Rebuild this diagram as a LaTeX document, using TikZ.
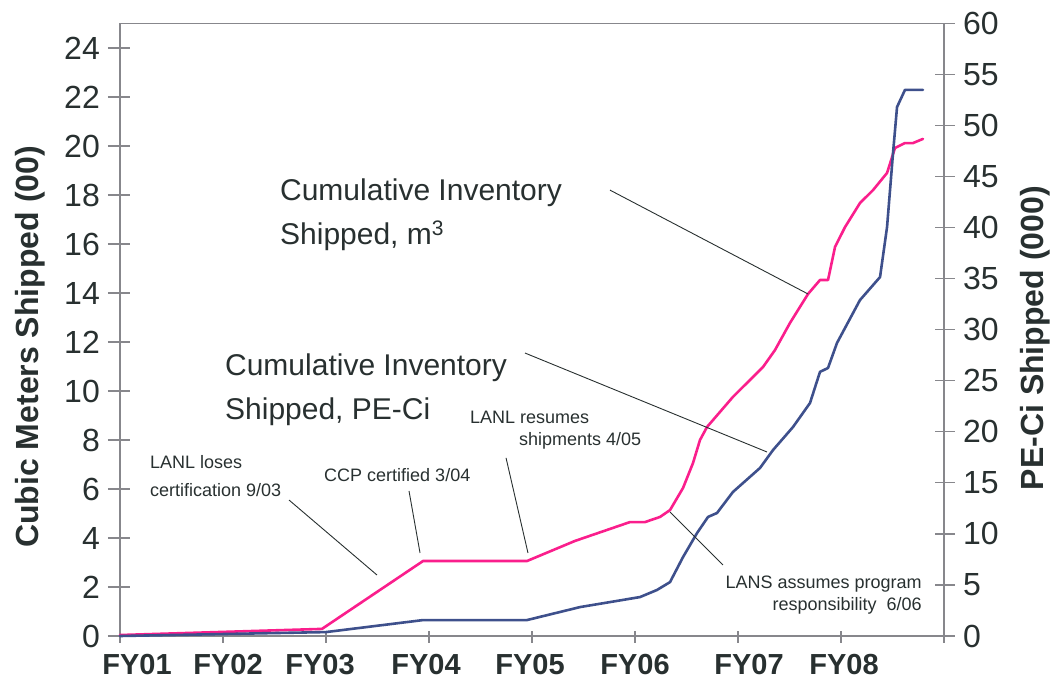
\documentclass[tikz,border=0pt]{standalone}
\usepackage{fontspec}
\setmainfont{Liberation Sans}
\usetikzlibrary{positioning}
\definecolor{pk}{RGB}{250,30,140}
\definecolor{bl}{RGB}{62,80,140}
\definecolor{ink}{RGB}{40,48,48}
\definecolor{axg}{RGB}{135,135,140}

\begin{document}
\begin{tikzpicture}[x=103pt, y=24.5pt,
    axline/.style={draw=axg, line width=1.2pt},
    curve/.style={draw=#1, line width=2.6pt, line join=round, line cap=round},
    lead/.style={draw=ink, line width=0.9pt},
    ticklbl/.style={font=\fontsize{32}{32}\selectfont, text=ink, inner sep=0pt},
    fylbl/.style={font=\fontsize{29}{29}\selectfont\bfseries, text=ink, inner sep=0pt},
    axtitle/.style={font=\fontsize{32}{32}\selectfont\bfseries, text=ink, inner sep=0pt, rotate=90},
    big/.style={font=\fontsize{30}{44}\selectfont, text=ink, inner sep=0pt, align=left},
    small/.style={font=\fontsize{18}{28}\selectfont, text=ink, inner sep=0pt, align=left},
]
\useasboundingbox (-1.1650,-1.9592) rectangle (9.0680,25.9592);

% === FRAME AND TICKS ===
\draw[axline] (0,0) -- (0,25) -- (8,25) -- (8,0);
\draw[axline, line width=1.6pt] (0,0) -- (8,0);
\foreach \v in {0,2,...,24}
  \draw[axline] (-0.117,\v) -- (0.097,\v);
\foreach \w in {0,5,...,60}
  \draw[axline] (7.913,{\w/2.4}) -- (8.107,{\w/2.4});
\foreach \i in {0,...,8}
  \draw[axline] (\i,0.2) -- (\i,-0.29);

% tick labels
\foreach \v in {0,2,...,24}
  \node[ticklbl, anchor=east] (l\v) at (-0.194,\v) {\v};
\foreach \w in {0,5,...,60}
  \node[ticklbl, anchor=west] (r\w) at (8.184,{\w/2.4}) {\w};
\foreach \x/\t in {0.165/FY01, 1.049/FY02, 1.942/FY03, 2.971/FY04, 3.981/FY05, 5.0/FY06, 6.107/FY07, 7.029/FY08}
  \node[fylbl] (\t) at (\x,-1.18) {\t};

% axis titles
\node[axtitle] (ytitle) at (-0.874,11.80) {Cubic Meters Shipped (00)};
\node[axtitle] (rtitle) at (8.883,12.16) {PE-Ci Shipped (000)};

% === CURVES ===
% cubic metres (left axis)
\draw[curve=pk] plot coordinates {(0,0.04) (1.961,0.29) (2.942,3.06) (3.951,3.06) (4.417,3.88) (4.951,4.65) (5.097,4.65) (5.243,4.86) (5.340,5.14) (5.466,6.04) (5.563,7.06) (5.631,8.0) (5.699,8.53) (5.951,9.76) (6.243,10.98) (6.359,11.67) (6.505,12.78) (6.680,13.96) (6.796,14.53) (6.874,14.53) (6.942,15.88) (7.039,16.69) (7.184,17.67) (7.311,18.20) (7.447,18.90) (7.524,19.92) (7.621,20.12) (7.699,20.12) (7.796,20.29)};
% PE-Ci (right axis)
\draw[curve=bl] plot coordinates {(0,0) (2.0,0.16) (2.942,0.65) (3.951,0.65) (4.466,1.18) (5.049,1.59) (5.214,1.88) (5.340,2.20) (5.466,3.22) (5.602,4.20) (5.709,4.86) (5.796,5.02) (5.951,5.88) (6.214,6.86) (6.340,7.59) (6.534,8.53) (6.699,9.51) (6.796,10.78) (6.874,10.94) (6.961,11.96) (7.184,13.71) (7.379,14.65) (7.447,16.69) (7.505,19.71) (7.544,21.59) (7.621,22.29) (7.796,22.29)};

% === LABELS ===
\node[big, anchor=west] (cim) at (1.553,17.18) {Cumulative Inventory\\Shipped, m\textsuperscript{3}};
\node[big, anchor=west] (cipe) at (1.019,10.06) {Cumulative Inventory\\Shipped, PE-Ci};
\node[small, anchor=west] (loses) at (0.291,6.53) {LANL loses\\certification 9/03};
\node[small, anchor=west] (ccp) at (1.981,6.57) {CCP certified 3/04};
\node[small, anchor=west, font=\fontsize{18}{22}\selectfont] (resume) at (3.398,8.40) {LANL resumes\\\hspace*{49pt}shipments 4/05};
\node[small, anchor=east, align=right, font=\fontsize{18}{22}\selectfont] (lans) at (7.786,1.67) {LANS assumes program\\responsibility\ \ 6/06};

% leader lines
\coordinate (cim a) at (4.757,18.20);   \coordinate (cim b) at (6.680,13.96);
\coordinate (cipe a) at (3.932,11.55);  \coordinate (cipe b) at (6.282,7.51);
\coordinate (loses a) at (1.641,5.55);  \coordinate (loses b) at (2.495,2.49);
\coordinate (ccp a) at (2.806,5.92);    \coordinate (ccp b) at (2.913,3.39);
\coordinate (resume a) at (3.748,7.27); \coordinate (resume b) at (3.961,3.39);
\coordinate (lans a) at (5.340,5.06);   \coordinate (lans b) at (5.854,2.90);
\foreach \n in {cim,cipe,loses,ccp,resume,lans}
  \draw[lead] (\n\space a) -- (\n\space b);

\end{tikzpicture}
\end{document}
